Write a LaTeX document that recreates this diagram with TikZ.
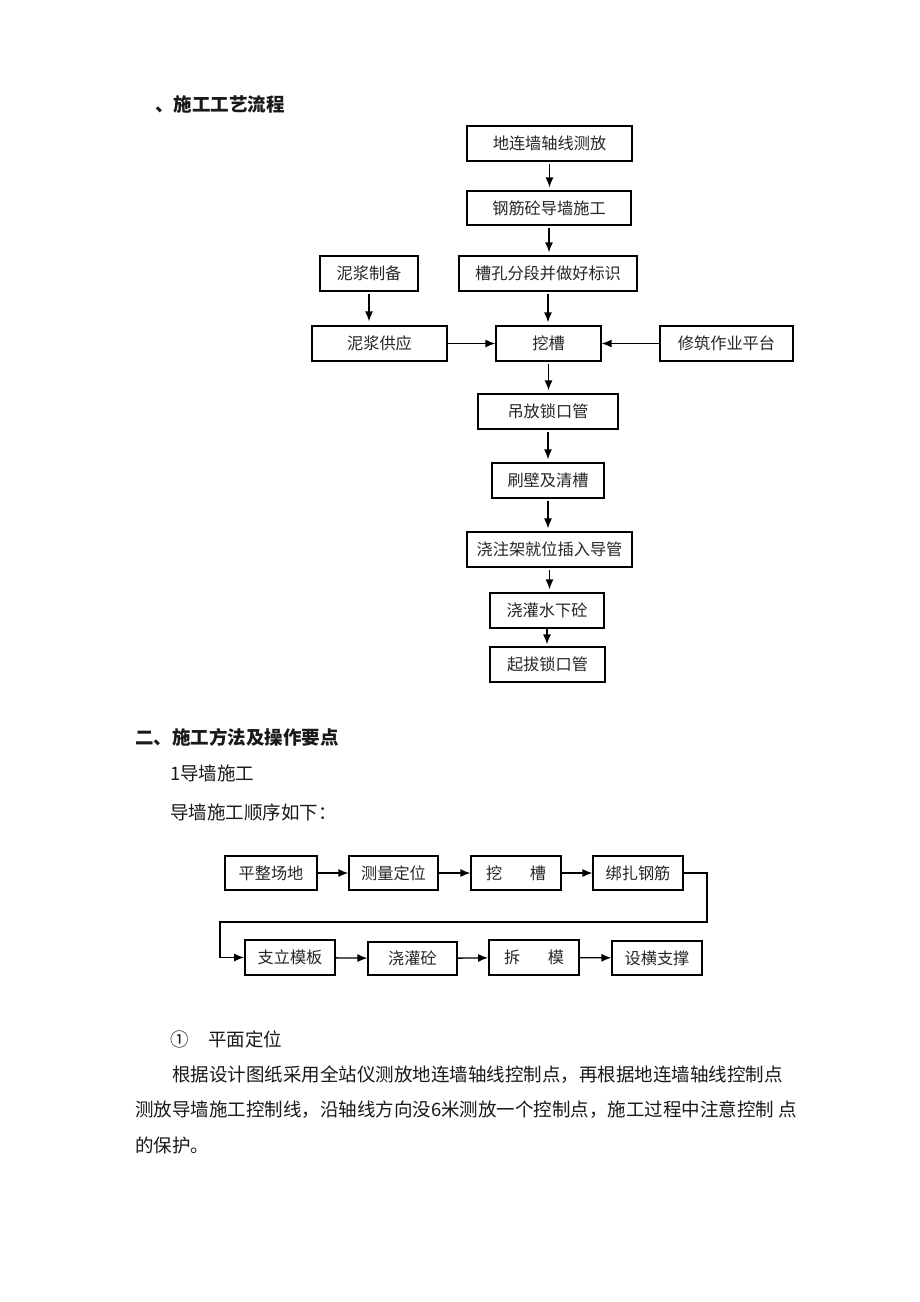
\documentclass[tikz,border=0pt]{standalone}
\usepackage{fontspec}
\newfontfamily\cjk{Noto Sans CJK SC}
\usetikzlibrary{arrows.meta,calc}
\tikzset{
  box/.style={draw=black, line width=1.2pt, inner sep=0pt, font=\cjk\fontsize{16.2}{17}\selectfont, text=black!85},
  boxb/.style={box, line width=1.8pt},
  arr/.style={draw=black, line width=1.3pt, -{Latex[length=10pt,width=8pt]}},
  txt/.style={anchor=west, inner sep=0pt, font=\cjk\fontsize{18.5}{20}\selectfont, text=black!90},
  head/.style={txt, font=\cjk\bfseries\fontsize{18.5}{20}\selectfont}
}
\begin{document}
\begin{tikzpicture}[x=1pt,y=-1pt]
\useasboundingbox[fill=white] (0,0) rectangle (920,1302);
% headings
\node[head] (h1) at (155,104) {、施工工艺流程};
% top flow
\node[box, minimum width=165pt, minimum height=35pt] (t1) at (549.5,143.5) {地连墙轴线测放};
\node[box, minimum width=164pt, minimum height=34pt] (t2) at (549,208) {钢筋砼导墙施工};
\node[box, minimum width=178pt, minimum height=35pt] (t3) at (548,273.5) {槽孔分段并做好标识};
\node[box, minimum width=98pt, minimum height=35pt] (s1) at (369,273.5) {泥浆制备};
\node[box, minimum width=135pt, minimum height=35pt] (s2) at (379.5,343.5) {泥浆供应};
\node[box, minimum width=105pt, minimum height=35pt] (t4) at (548.5,343.5) {挖槽};
\node[box, minimum width=133pt, minimum height=35pt] (r1) at (726.5,343.5) {修筑作业平台};
\node[box, minimum width=140pt, minimum height=35pt] (t5) at (548,411.5) {吊放锁口管};
\node[box, minimum width=112pt, minimum height=35pt] (t6) at (548,480.5) {刷壁及清槽};
\node[box, minimum width=165pt, minimum height=35pt] (t7) at (549.5,549.5) {浇注架就位插入导管};
\node[box, minimum width=114pt, minimum height=35pt] (t8) at (547,610.5) {浇灌水下砼};
\node[box, minimum width=115pt, minimum height=35pt] (t9) at (547.5,664.5) {起拔锁口管};
\foreach \a/\b in {t1/t2,t2/t3,t3/t4,t4/t5,t5/t6,t6/t7,t7/t8}{
  \draw[arr, shorten <=2pt, shorten >=3pt] (\a.south) -- (\a.south |- \b.north);
}
\draw[arr, shorten <=-2pt, shorten >=2pt] (t8.south) -- (t8.south |- t9.north);
\draw[arr, shorten <=2pt, shorten >=4pt] (s1.south) -- (s1.south |- s2.north);
\draw[arr] (s2.east) -- (t4.west);
\draw[arr] (r1.west) -- (t4.east);
% section 2
\node[head] (h2) at (135,737) {二、施工方法及操作要点};
\node[txt] (p1) at (170,773) {1导墙施工};
\node[txt] (p2) at (170,812) {导墙施工顺序如下：};
% bottom flow
\node[boxb, minimum width=92pt, minimum height=34pt] (b1) at (271,873) {平整场地};
\node[box, minimum width=89pt, minimum height=34pt] (b2) at (393.5,873) {测量定位};
\node[box, minimum width=90pt, minimum height=34pt] (b3) at (516,873) {挖\hspace{1.7em}槽};
\node[box, minimum width=90pt, minimum height=34pt] (b4) at (638,873) {绑扎钢筋};
\node[boxb, minimum width=90pt, minimum height=35pt] (b5) at (290,957.5) {支立模板};
\node[box, minimum width=89pt, minimum height=33pt] (b6) at (412.5,958.5) {浇灌砼};
\node[boxb, minimum width=90pt, minimum height=35pt] (b7) at (534,957.5) {拆\hspace{1.7em}模};
\node[box, minimum width=90pt, minimum height=34pt] (b8) at (657,958) {设横支撑};
\draw[arr] (b1) -- (b2);
\draw[arr] (b2) -- (b3);
\draw[arr] (b3) -- (b4);
\draw[arr] (b5) -- (b6);
\draw[arr] (b6) -- (b7);
\draw[arr] (b7) -- (b8);
\coordinate (c1) at (707,922);
\coordinate (c2) at (220,922);
\draw[arr] (b4.east) -| (c1) -- (c2) |- (b5.west);
% text
\node[txt] (q0) at (170,1039) {①};
\node[txt] (q1) at (208,1039) {平面定位};
\node[txt] (l1) at (172,1075) {根据设计图纸采用全站仪测放地连墙轴线控制点，再根据地连墙轴线控制点};
\node[txt] (l2) at (135,1110) {测放导墙施工控制线，沿轴线方向没6米测放一个控制点，施工过程中注意控制 点};
\node[txt] (l3) at (135,1145) {的保护。};
\end{tikzpicture}
\end{document}
